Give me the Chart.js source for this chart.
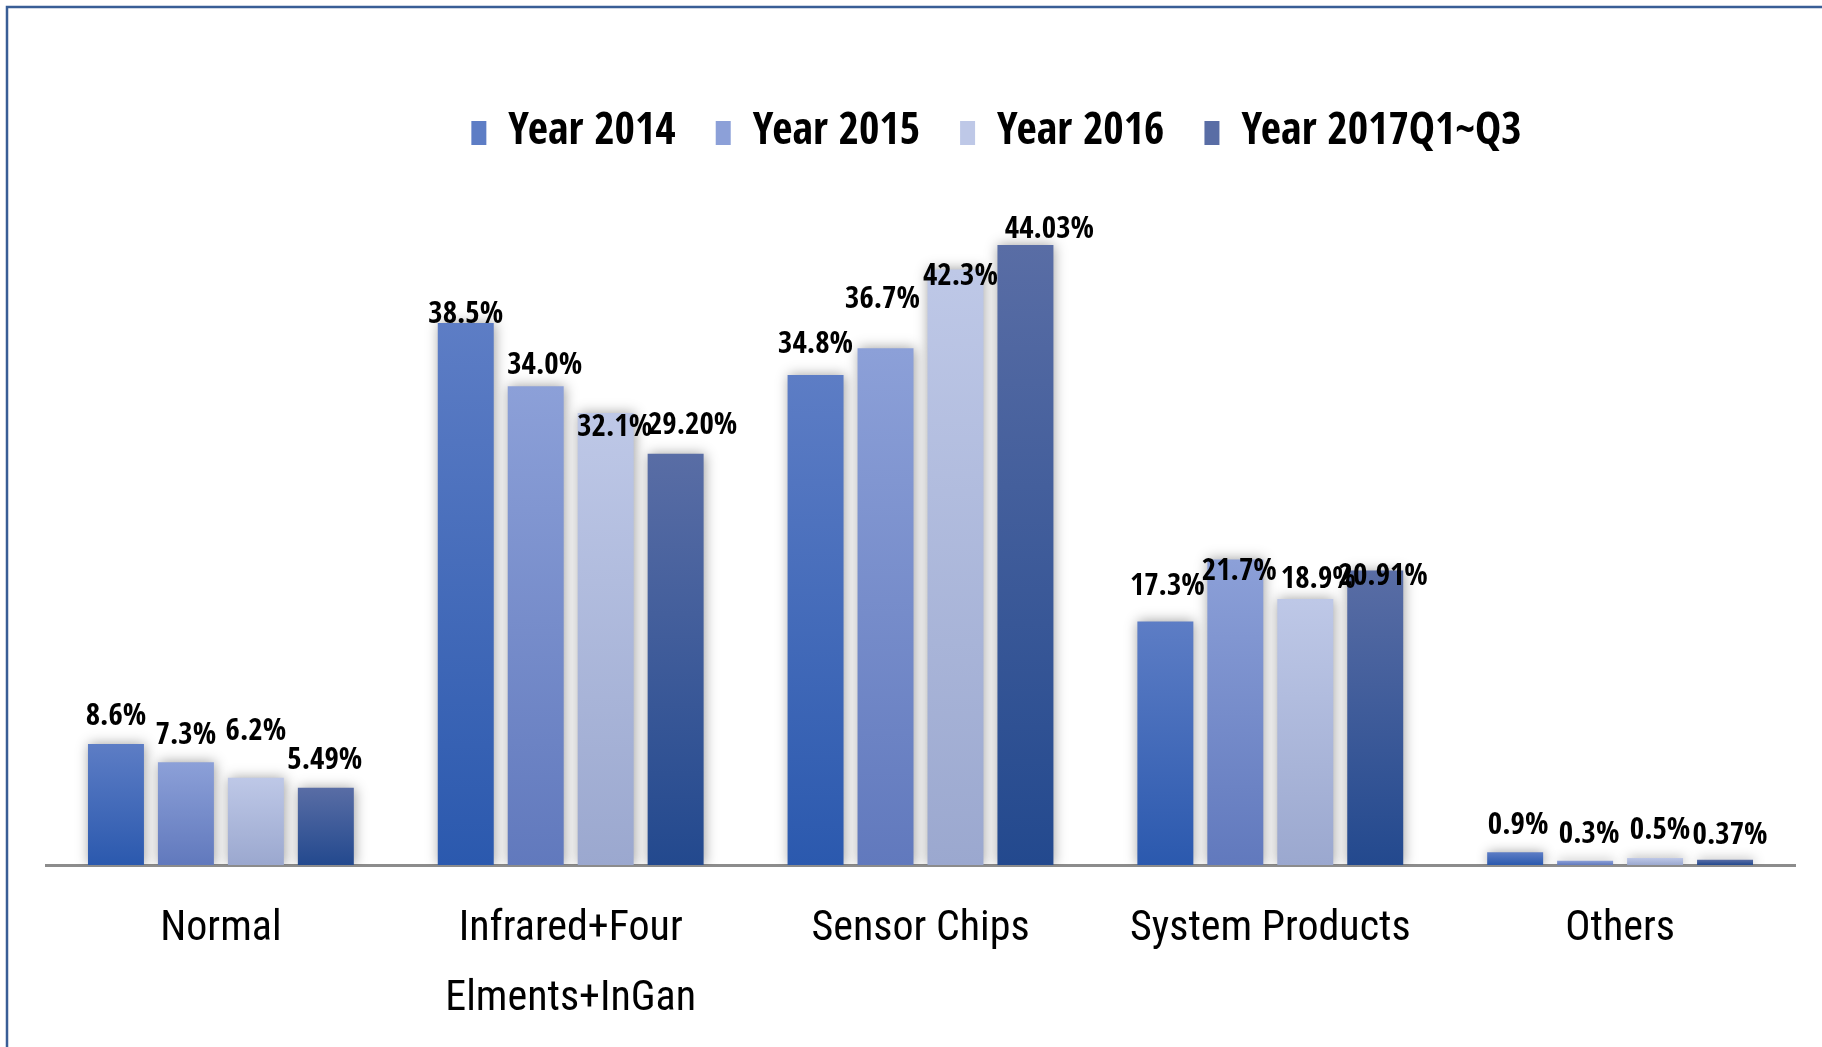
<!DOCTYPE html>
<html>
<head>
<meta charset="utf-8">
<script src="https://cdn.jsdelivr.net/npm/chart.js@4.4.0/dist/chart.umd.min.js"></script>
<style>
	html, body { margin: 0; padding: 0; background: #fff; }
	canvas { display: block; }
</style>
</head>
<body>
<canvas id="myChart" width="1822" height="1047"></canvas>
<script>
//data
let categories = ['Normal', ['Infrared+Four', 'Elments+InGan'], 'Sensor Chips', 'System Products', 'Others']
let seriesNames = ['Year 2014', 'Year 2015', 'Year 2016', 'Year 2017Q1~Q3']
let year2014 = [8.6, 38.5, 34.8, 17.3, 0.9]
let year2015 = [7.3, 34.0, 36.7, 21.7, 0.3]
let year2016 = [6.2, 32.1, 42.3, 18.9, 0.5]
let year2017 = [5.49, 29.20, 44.03, 20.91, 0.37]
let decimals = [1, 1, 1, 2] //how the labels are written per series

//label nudges (px) - the source had hand placed labels
let labelLift = [
	[31, 12, 34, 39, 30],
	[30, 24, 52, -8, 30],
	[50, -11, -3, 23, 31],
	[31, 32, 19, -2, 28]
]
let labelShift = [
	[0, 0, 0, 2, 3],
	[0, 9, -3, 4, 4],
	[0, 9, 5, 13, 5],
	[-1, 17, 24, 8, 5]
]

//gradient colors top -> bottom
let barColors = [
	['#5d7dc5', '#2b59ae'],
	['#8ca0d8', '#6179bd'],
	['#bec8e7', '#9ba8cf'],
	['#596da5', '#23498e']
]

let boldNarrow = "'Open Sans Condensed', 'Roboto Condensed', 'DejaVu Sans Condensed', sans-serif"
let narrow = "'Roboto Condensed', 'DejaVu Sans Condensed', sans-serif"

function barFill(colors) {
	return (context) => {
		let chart = context.chart
		let c = chart.ctx
		let y0 = 120, y1 = 144 //legend box
		if (context.type === 'data' && chart.scales.y) {
			let top = chart.scales.y.getPixelForValue(context.raw)
			let base = chart.scales.y.getPixelForValue(0)
			if (isFinite(top) && isFinite(base) && base > top) {
				y0 = top
				y1 = base
			} else {
				return colors[1]
			}
		}
		let g = c.createLinearGradient(0, y0, 0, y1)
		g.addColorStop(0, colors[0])
		g.addColorStop(1, colors[1])
		return g
	}
}

let allValues = [year2014, year2015, year2016, year2017]

let data = {
	labels: categories,
	datasets: allValues.map((values, i) => ({
		label: seriesNames[i],
		data: values,
		backgroundColor: barFill(barColors[i]),
		borderWidth: 0,
		categoryPercentage: 0.8,
		barPercentage: 0.8
	}))
}

//white background + the blue frame (top and left edge only show)
let frame = {
	id: 'frame',
	beforeDraw(chart) {
		let c = chart.ctx
		c.save()
		c.fillStyle = '#fff'
		c.fillRect(0, 0, chart.width, chart.height)
		c.strokeStyle = '#395e96'
		c.lineWidth = 2.5
		c.beginPath()
		c.moveTo(7, chart.height)
		c.lineTo(7, 7)
		c.lineTo(chart.width, 7)
		c.stroke()
		c.restore()
	}
}

//fixed legend height, legend pushed a bit right like the source
let legendFit = {
	id: 'legendFit',
	beforeInit(chart) {
		let fit = chart.legend.fit
		chart.legend.fit = function () {
			fit.bind(chart.legend)()
			this.height = 90
		}
	},
	afterLayout(chart) {
		chart.legend.left += 76
		chart.legend.right += 76
	}
}

//soft grey glow round the bars
let barShadow = {
	id: 'barShadow',
	beforeDatasetsDraw(chart) {
		let c = chart.ctx
		c.save()
		c.shadowColor = 'rgba(0,0,0,0.38)'
		c.shadowBlur = 12
		c.shadowOffsetX = 1
		c.shadowOffsetY = 0
	},
	afterDatasetsDraw(chart) {
		chart.ctx.restore()
	}
}

//value labels over the bars
let valueLabels = {
	id: 'valueLabels',
	afterDraw(chart) {
		let c = chart.ctx
		c.save()
		c.font = 'bold 31px ' + boldNarrow
		c.fillStyle = '#000'
		c.textAlign = 'center'
		c.textBaseline = 'middle'
		chart.data.datasets.forEach((ds, i) => {
			let meta = chart.getDatasetMeta(i)
			meta.data.forEach((bar, j) => {
				let text = ds.data[j].toFixed(decimals[i]) + '%'
				//+4: this font sits a little high on 'middle'
				c.fillText(text, bar.x + labelShift[i][j], bar.y - labelLift[i][j] + 4)
			})
		})
		c.restore()
	}
}

let config = {
	type: 'bar',
	data: data,
	options: {
		responsive: false,
		animation: false,
		layout: {
			padding: { left: 46, right: 27, top: 71, bottom: 0 }
		},
		plugins: {
			legend: {
				display: true,
				position: 'top',
				labels: {
					boxWidth: 15,
					boxHeight: 24,
					padding: 40,
					color: '#000',
					font: { family: boldNarrow, size: 44, weight: 'bold' }
				}
			},
			tooltip: { enabled: false }
		},
		scales: {
			x: {
				z: 1,
				grid: { display: false, drawTicks: false },
				border: { display: true, color: '#8c8c8c', width: 3 },
				ticks: {
					padding: 29,
					color: '#000',
					maxRotation: 0,
					autoSkip: false,
					font: { family: narrow, size: 42, lineHeight: '70px' }
				},
				afterFit: (scale) => {
					scale.height = 182
				}
			},
			y: {
				display: false,
				min: 0,
				max: 50
			}
		}
	},
	plugins: [frame, legendFit, barShadow, valueLabels]
}

let chart = new Chart(document.getElementById('myChart').getContext('2d'), config)
</script>
</body>
</html>
